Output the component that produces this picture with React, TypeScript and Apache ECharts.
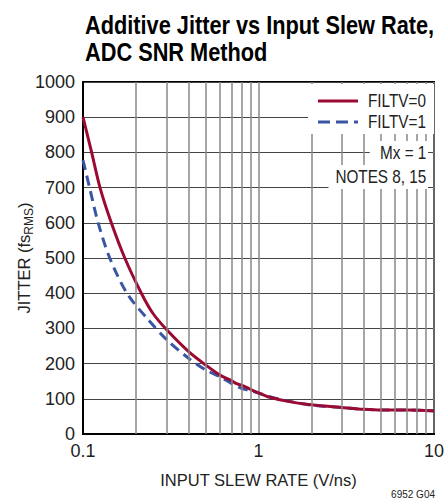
import React, { useEffect, useRef } from "react";
import * as echarts from "echarts";

const xFiltv0 = [0.1, 0.112, 0.125, 0.145, 0.173, 0.215, 0.25, 0.3, 0.4, 0.5, 0.6, 0.7, 0.75, 0.8, 0.9, 1, 1.13, 1.5, 2, 3, 4, 5, 7, 10];
const yFiltv0 = [900, 800, 700, 600, 500, 400, 343, 296, 234, 196, 168, 152, 143, 139, 127, 117, 106, 92, 83, 75, 70, 68, 68, 65];
const xFiltv1 = [0.1, 0.109, 0.122, 0.142, 0.178, 0.236, 0.3, 0.4, 0.5, 0.6, 0.7, 0.8, 0.9, 1, 1.2, 1.5, 2, 3, 4, 5, 7, 10];
const yFiltv1 = [778, 700, 600, 500, 400, 324, 268, 215, 182, 163, 144, 130, 123, 116, 104, 93, 82, 75, 70, 68, 68, 66];
const minorX = [0.2, 0.3, 0.4, 0.5, 0.6, 0.7, 0.8, 0.9, 2, 3, 4, 5, 6, 7, 8, 9];
const yTicks = [0, 100, 200, 300, 400, 500, 600, 700, 800, 900, 1000];
const xTickLabels: Record<string, string> = { "0.1": "0.1", "1": "1", "10": "10" };

const FONT = "'Liberation Sans', Arial, sans-serif";
const RED = "#9b0a33";
const BLUE = "#3a55a4";
const TXT = "#222";

export default function App() {
  const ref = useRef<HTMLDivElement>(null);
  useEffect(() => {
    if (!ref.current) return;
    const chart = echarts.init(ref.current, undefined, { renderer: "svg" });
    const pairs = (xs: number[], ys: number[]) => xs.map((x, i) => [x, ys[i]]);
    const condensed = (text: string, x: number, y: number, align: string, size: number, extra: any = {}) => ({
      type: "text",
      x,
      y,
      scaleX: 0.85,
      z: 100,
      style: { text, fontSize: size, fill: TXT, fontFamily: FONT, align, verticalAlign: "middle", ...extra },
    });
    chart.setOption({
      animation: false,
      textStyle: { fontFamily: FONT },
      grid: {
        left: 83,
        right: 11,
        top: 82,
        bottom: 70,
        show: true,
        borderColor: "#000",
        borderWidth: 2,
        backgroundColor: "transparent",
        outerBoundsMode: "none",
        containLabel: false,
      },
      xAxis: {
        type: "log",
        logBase: 10,
        min: 0.1,
        max: 10,
        name: "INPUT SLEW RATE (V/ns)",
        nameLocation: "middle",
        nameGap: 37,
        nameMoveOverlap: false,
        nameTextStyle: { fontSize: 16.5, color: TXT, fontFamily: FONT },
        axisLine: { show: true, lineStyle: { color: "#000", width: 2 } },
        axisTick: { show: false },
        axisLabel: {
          fontSize: 18,
          color: TXT,
          margin: 8,
          formatter: (v: number) => xTickLabels[String(v)] ?? "",
        },
        splitLine: { show: true, lineStyle: { color: "#888", width: 1.5 } },
      },
      yAxis: {
        type: "value",
        min: 0,
        max: 1000,
        interval: 100,
        name: "{a|JITTER (fs}{b|RMS}{a|)}",
        nameLocation: "middle",
        nameRotate: 90,
        nameGap: 51,
        nameMoveOverlap: false,
        nameTextStyle: {
          rich: {
            a: { fontSize: 16.5, color: TXT, fontFamily: FONT, lineHeight: 22, verticalAlign: "bottom" },
            b: { fontSize: 12, color: TXT, fontFamily: FONT, lineHeight: 22, verticalAlign: "bottom", padding: [0, 0, -3, 0] },
          },
        },
        axisLine: { show: true, lineStyle: { color: "#000", width: 2 } },
        axisTick: { show: false },
        axisLabel: { fontSize: 18, color: TXT, margin: 8, formatter: (v: number) => (yTicks.includes(v) ? String(v) : "") },
        splitLine: { show: true, lineStyle: { color: "#444", width: 1 } },
      },
      graphic: [
        {
          type: "text",
          x: 85,
          y: 12,
          scaleX: 0.87,
          style: {
            text: "Additive Jitter vs Input Slew Rate,\nADC SNR Method",
            fontFamily: FONT,
            fontWeight: "bold",
            fontSize: 25,
            lineHeight: 27,
            fill: "#000",
            align: "left",
            verticalAlign: "top",
          },
        },
        {
          type: "rect",
          z: 99,
          shape: { x: 308, y: 84, width: 126, height: 50 },
          style: { fill: "#fff" },
        },
        {
          type: "line",
          z: 100,
          shape: { x1: 318, y1: 101, x2: 358, y2: 101 },
          style: { stroke: RED, lineWidth: 3 },
        },
        {
          type: "line",
          z: 100,
          shape: { x1: 318, y1: 122, x2: 358, y2: 122 },
          style: { stroke: BLUE, lineWidth: 3, lineDash: [12, 6] },
        },
        condensed("FILTV=0", 368, 101, "left", 18),
        condensed("FILTV=1", 368, 122, "left", 18),
        condensed("Mx = 1", 428, 153, "right", 18, { backgroundColor: "#fff", padding: [3, 2, 3, 12] }),
        condensed("NOTES 8, 15", 428, 177, "right", 18, { backgroundColor: "#fff", padding: [3, 2, 3, 8] }),
        {
          type: "text",
          right: 10,
          top: 489,
          style: { text: "6952 G04", fontSize: 10, fill: TXT, fontFamily: FONT },
        },
      ],
      series: [
        {
          name: "grid-minor",
          type: "line",
          data: [],
          z: 1,
          silent: true,
          markLine: {
            silent: true,
            symbol: "none",
            label: { show: false },
            lineStyle: { color: "#888", width: 1.5, type: "solid" },
            data: minorX.map((v) => ({ xAxis: v })),
          },
        },
        {
          name: "FILTV=0",
          type: "line",
          data: pairs(xFiltv0, yFiltv0),
          smooth: 0.3,
          showSymbol: false,
          symbol: "none",
          z: 4,
          lineStyle: { color: RED, width: 3 },
          itemStyle: { color: RED },
        },
        {
          name: "FILTV=1",
          type: "line",
          data: pairs(xFiltv1, yFiltv1),
          smooth: 0.3,
          showSymbol: false,
          symbol: "none",
          z: 3,
          lineStyle: { color: BLUE, width: 3, type: [10, 6] },
          itemStyle: { color: BLUE },
        },
      ],
    });
    return () => chart.dispose();
  }, []);
  return <div ref={ref} style={{ width: 445, height: 504, position: "absolute", left: 0, top: 0 }} />;
}
